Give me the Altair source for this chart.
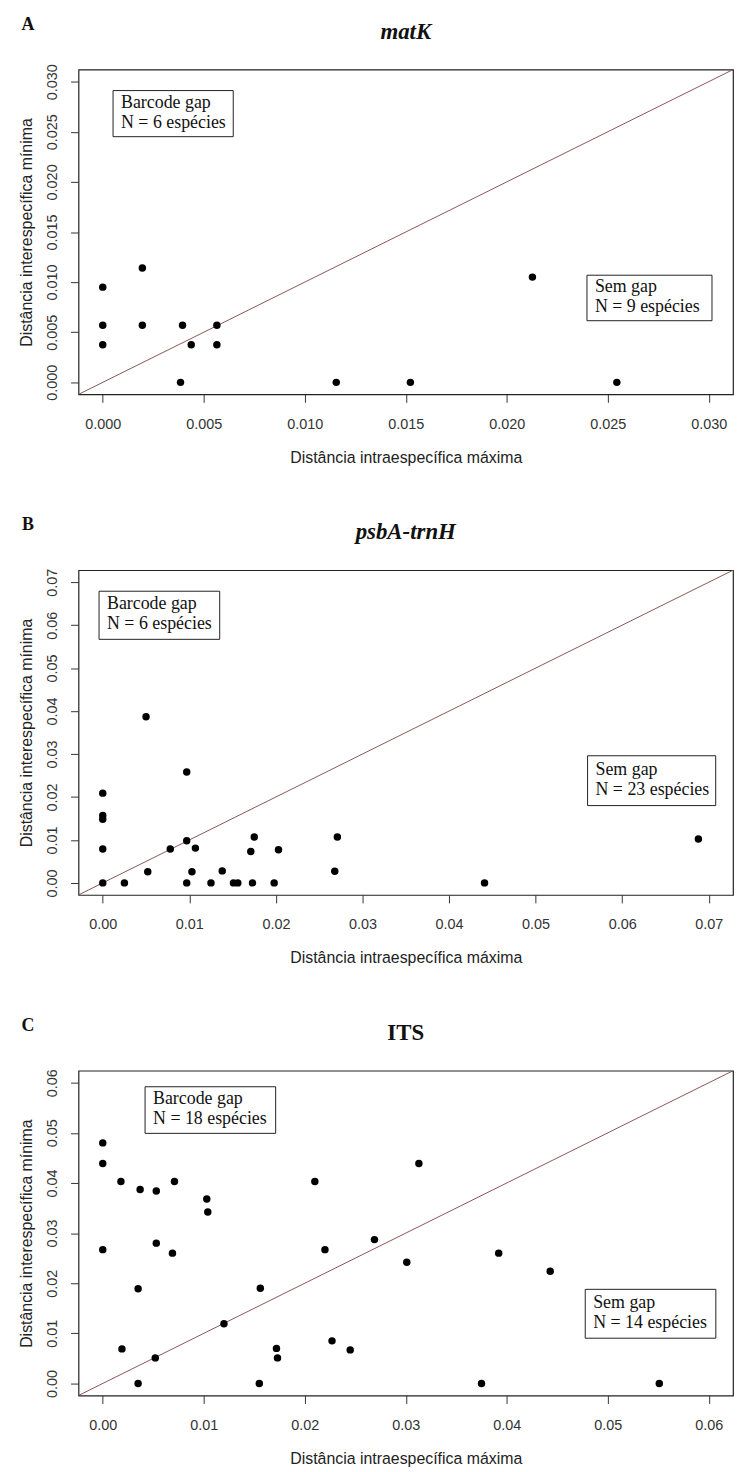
import altair as alt
import pandas as pd

# ---------------- data ----------------
A_x = [0.0, 0.0, 0.0, 0.00196, 0.00196, 0.00385, 0.00395, 0.00438, 0.00565, 0.00565,
       0.01156, 0.01523, 0.02127, 0.02545]
A_y = [0.0095, 0.0057, 0.00375, 0.0114, 0.0057, 0.0, 0.0057, 0.00375, 0.0057, 0.00375,
       0.0, 0.0, 0.0105, 0.0]

B_x = [0.0, 0.0, 0.0, 0.0, 0.0, 0.0025, 0.0050, 0.0052, 0.0078, 0.0097, 0.0097, 0.0097,
       0.0103, 0.0107, 0.0125, 0.0138, 0.0151, 0.0156, 0.0171, 0.0173, 0.0175, 0.0198,
       0.0203, 0.0268, 0.0271, 0.0441, 0.0688]
B_y = [0.0209, 0.0157, 0.0148, 0.0079, 0.0, 0.0, 0.0387, 0.0026, 0.0079, 0.0258, 0.0098,
       0.0, 0.0026, 0.0081, 0.0, 0.0028, 0.0, 0.0, 0.0073, 0.0, 0.0107, 0.0, 0.0077,
       0.0027, 0.0107, 0.0, 0.0102]

C_x = [0.0, 0.0, 0.0, 0.0018, 0.0019, 0.0035, 0.0035, 0.0037, 0.0053, 0.0053, 0.0052,
       0.0069, 0.0071, 0.0103, 0.0104, 0.0120, 0.0155, 0.0156, 0.0172, 0.0173, 0.0210,
       0.0220, 0.0227, 0.0245, 0.0269, 0.0301, 0.0313, 0.0375, 0.0392, 0.0443, 0.0551]
C_y = [0.0480, 0.0439, 0.0267, 0.0403, 0.0069, 0.0189, 0.0, 0.0387, 0.0384, 0.0280,
       0.0051, 0.0260, 0.0403, 0.0368, 0.0342, 0.0119, 0.0, 0.0190, 0.0070, 0.0051,
       0.0403, 0.0267, 0.0085, 0.0067, 0.0287, 0.0242, 0.0439, 0.0, 0.0260, 0.0224, 0.0]

A_ticks = [0.0, 0.005, 0.01, 0.015, 0.02, 0.025, 0.03]
B_ticks = [0.0, 0.01, 0.02, 0.03, 0.04, 0.05, 0.06, 0.07]
C_ticks = [0.0, 0.01, 0.02, 0.03, 0.04, 0.05, 0.06]

titles = ["matK", "psbA-trnH", "ITS"]
letters = ["A", "B", "C"]
gap_text = [["Barcode gap", "N = 6 espécies"],
            ["Barcode gap", "N = 6 espécies"],
            ["Barcode gap", "N = 18 espécies"]]
nogap_text = [["Sem gap", "N = 9 espécies"],
              ["Sem gap", "N = 23 espécies"],
              ["Sem gap", "N = 14 espécies"]]

# annotation box extents (data units): x1, x2, y1, y2
gap_boxes = [(0.00051, 0.00646, 0.02451, 0.02911),
             (-0.00043, 0.01351, 0.0567, 0.0679),
             (0.00419, 0.01712, 0.0499, 0.0592)]
nogap_boxes = [(0.02397, 0.03016, 0.00615, 0.01069),
               (0.0560, 0.0708, 0.0180, 0.0296),
               (0.04777, 0.0607, 0.00903, 0.01878)]

XTITLE = "Distância intraespecífica máxima"
YTITLE = "Distância interespecífica mínima"

SANS = "Liberation Sans"
SERIF = "Liberation Serif"
W, H = 659, 327


def panel(i, xs, ys, ticks, fmt, italic):
    lim = ticks[-1]
    lo, hi = -0.04 * lim, 1.04 * lim
    sx = alt.Scale(domain=[lo, hi], nice=False, zero=False)
    sy = alt.Scale(domain=[lo, hi], nice=False, zero=False)
    xaxis = alt.Axis(values=ticks, format=fmt, title=XTITLE, grid=False, domain=False,
                     tickSize=8, tickColor="#333", tickWidth=1,
                     labelFont=SANS, labelFontSize=14.5, labelColor="#333", labelPadding=15,
                     titleFont=SANS, titleFontSize=16, titleFontWeight="normal",
                     titleColor="#222", titlePadding=19)
    yaxis = alt.Axis(values=ticks, format=fmt, title=YTITLE, grid=False, domain=False,
                     tickSize=8, tickColor="#333", tickWidth=1,
                     labelFont=SANS, labelFontSize=14.5, labelColor="#333", labelPadding=11,
                     labelAngle=270, labelAlign="center", labelBaseline="bottom",
                     titleFont=SANS, titleFontSize=16, titleFontWeight="normal",
                     titleColor="#222", titlePadding=10)

    pts = pd.DataFrame({"x": xs, "y": ys})
    diag = pd.DataFrame({"x": [lo, hi], "y": [lo, hi]})

    line = alt.Chart(diag).mark_line(color="#8c5656", strokeWidth=1, clip=True).encode(
        x=alt.X("x:Q", scale=sx, axis=xaxis),
        y=alt.Y("y:Q", scale=sy, axis=yaxis),
    )
    dots = alt.Chart(pts).mark_circle(size=56, color="black", opacity=1).encode(
        x=alt.X("x:Q", scale=sx), y=alt.Y("y:Q", scale=sy))

    layers = [line, dots]
    for box, txt in ((gap_boxes[i], gap_text[i]), (nogap_boxes[i], nogap_text[i])):
        bdf = pd.DataFrame({"x1": [box[0]], "x2": [box[1]], "y1": [box[2]], "y2": [box[3]],
                            "t": [txt], "yc": [(box[2] + box[3]) / 2]})
        rect = alt.Chart(bdf).mark_rect(fill="white", stroke="#222", strokeWidth=1).encode(
            x=alt.X("x1:Q", scale=sx), x2="x2:Q", y=alt.Y("y1:Q", scale=sy), y2="y2:Q")
        text = alt.Chart(bdf).mark_text(font=SERIF, fontSize=18, color="#111", align="left",
                                        baseline="middle", dx=8, dy=-11, lineHeight=20).encode(
            x=alt.X("x1:Q", scale=sx), y=alt.Y("yc:Q", scale=sy), text="t")
        layers += [rect, text]

    lab = alt.Chart(pd.DataFrame({"t": [letters[i]]})).mark_text(
        font=SERIF, fontSize=18, fontWeight="bold", color="#111", align="center",
        baseline="middle").encode(x=alt.value(-51), y=alt.value(-45), text="t")
    ttl = alt.Chart(pd.DataFrame({"t": [titles[i]]})).mark_text(
        font=SERIF, fontSize=23, fontWeight="bold",
        fontStyle="italic" if italic else "normal", color="#111", align="center",
        baseline="middle").encode(x=alt.value(W / 2), y=alt.value(-38), text="t")
    layers += [lab, ttl]

    return alt.layer(*layers).properties(width=W, height=H)


pA = panel(0, A_x, A_y, A_ticks, ".3f", True)
pB = panel(1, B_x, B_y, B_ticks, ".2f", True)
pC = panel(2, C_x, C_y, C_ticks, ".2f", False)

chart = alt.vconcat(pA, pB, pC, spacing=49).properties(
    padding={"left": 10, "top": 2, "right": 0, "bottom": 0}
).configure_view(stroke="#222", strokeWidth=1.2)

chart.save("out.html", embed_options={"renderer": "svg", "actions": False})
